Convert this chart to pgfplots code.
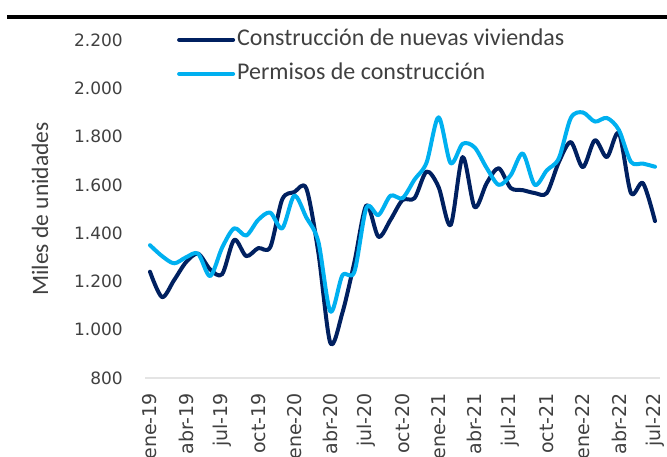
\documentclass[border=0pt]{standalone}
\usepackage{pgfplots}
\pgfplotsset{compat=1.18}
\usepackage{fontspec}
\setmainfont{Carlito}
\newfontfamily\tickfont{DejaVu Sans}
\definecolor{navy}{HTML}{002060}
\definecolor{sky}{HTML}{00B0F0}
\definecolor{txt}{HTML}{404040}
\definecolor{base}{HTML}{E4E4E4}

\pgfplotstableread{
m v
0 1240
1 1135
2 1205
3 1280
4 1315
5 1250
6 1230
7 1372
8 1305
9 1338
10 1342
11 1540
12 1570
13 1585
14 1320
15 945
16 1070
17 1280
18 1515
19 1385
20 1455
21 1537
22 1545
23 1655
24 1591
25 1433
26 1715
27 1508
28 1607
29 1669
30 1587
31 1578
32 1566
33 1566
34 1694
35 1777
36 1673
37 1785
38 1715
39 1814
40 1566
41 1607
42 1450
}\starts

\pgfplotstableread{
m v
0 1350
1 1305
2 1275
3 1300
4 1315
5 1222
6 1340
7 1420
8 1390
9 1455
10 1485
11 1420
12 1555
13 1465
14 1365
15 1075
16 1225
17 1240
18 1505
19 1475
20 1555
21 1545
22 1622
23 1692
24 1880
25 1690
26 1770
27 1755
28 1670
29 1600
30 1640
31 1730
32 1600
33 1660
34 1710
35 1877
36 1900
37 1862
38 1877
39 1827
40 1695
41 1688
42 1675
}\permits

\begin{document}
\begin{tikzpicture}
\begin{axis}[
  at={(145pt,79pt)}, anchor=south west,
  scale only axis, width=515pt, height=338pt,
  xmin=-0.416, xmax=42.416, ymin=800, ymax=2200,
  axis x line*=bottom, axis y line*=left,
  x axis line style={-, draw=base, line width=2pt},
  y axis line style={draw=none},
  tick style={draw=none}, major tick length=0pt,
  xtick={0,3,...,42},
  xticklabels={ene-19,abr-19,jul-19,oct-19,ene-20,abr-20,jul-20,oct-20,ene-21,abr-21,jul-21,oct-21,ene-22,abr-22,jul-22},
  x tick label style={rotate=90, anchor=east, inner sep=0pt, font=\tickfont\fontsize{19}{19}\selectfont, text=txt},
  xticklabel shift=15pt,
  ytick={800,1000,...,2200},
  y tick label style={anchor=east, inner sep=0pt, font=\tickfont\fontsize{17}{17}\selectfont, text=txt},
  yticklabel shift=22pt,
  /pgf/number format/.cd, 1000 sep={.}, assume math mode=true, /pgfplots/.cd,
  ylabel={Miles de unidades},
  ylabel style={font=\fontsize{23.5}{23.5}\selectfont, text=txt, at={(axis description cs:-0.204,0.5)}, anchor=center},
  legend style={draw=none, fill=none, at={(axis description cs:0.062,1.035)}, anchor=north west,
    inner sep=0pt, column sep=2pt, row sep=11pt,
    font=\fontsize{24}{24}\selectfont, text=txt,
    nodes={inner sep=0pt, text height=17pt, text depth=6pt}},
  legend cell align=left,
  legend image code/.code={\draw[#1, line cap=round] (0pt,0pt) -- (54pt,0pt);},
]
\addplot[navy, line width=4pt, smooth, tension=0.5, line join=round, line cap=round] table[x=m, y=v] {\starts};
\addlegendentry{Construcción de nuevas viviendas}
\addplot[sky, line width=4pt, smooth, tension=0.5, line join=round, line cap=round] table[x=m, y=v] {\permits};
\addlegendentry{Permisos de construcción}
\end{axis}
\draw[black, line width=3.5pt] (7pt,440pt) -- (667pt,440pt);
\pgfresetboundingbox
\path[use as bounding box] (0pt,0pt) rectangle (667pt,457pt);
\end{tikzpicture}
\end{document}
